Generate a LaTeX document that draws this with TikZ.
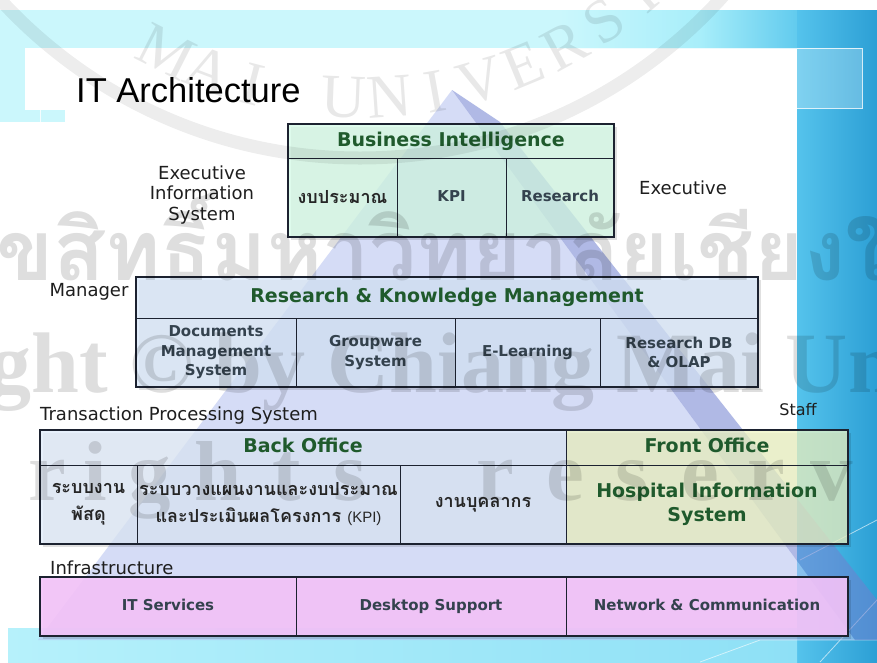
\documentclass[tikz,border=0pt]{standalone}
\usepackage{fontspec}
\setmainfont{DejaVu Sans}
\newfontfamily\titlefont{Liberation Sans}
\newfontfamily\thaifont[Script=Thai]{Loma}
\newfontfamily\wmserif{Liberation Serif}
\definecolor{hdgreen}{HTML}{1F5A2C}
\definecolor{celltxt}{HTML}{34424E}
\definecolor{lbl}{HTML}{1E1E1E}
\definecolor{bannerA}{HTML}{CBF7FC}
\definecolor{bannerB}{HTML}{A8EEFA}
\definecolor{bannerC}{HTML}{62CBEE}
\definecolor{panelA}{HTML}{55C3EC}
\definecolor{panelB}{HTML}{2C9FD5}
\definecolor{bottomA}{HTML}{B6F1FB}
\definecolor{bottomB}{HTML}{8EE0F6}
\definecolor{triface}{RGB}{180,192,240}
\definecolor{triband}{RGB}{112,128,208}
\definecolor{bifill}{RGB}{212,250,230}
\definecolor{rkfill}{RGB}{216,231,250}
\definecolor{bofill}{RGB}{224,235,250}
\definecolor{fofill}{RGB}{238,245,196}
\definecolor{infill}{RGB}{245,196,250}
\definecolor{boxline}{HTML}{1C2230}
\newcommand{\vfix}{\vphantom{Agp}}
\tikzset{
  cellbox/.style={draw=boxline, line width=0.7pt, inner sep=0pt, align=center, fill opacity=0.75, text opacity=1},
  hdtxt/.style={font=\bfseries\fontsize{19}{24}\selectfont, text=hdgreen},
  celltext/.style={font=\bfseries\fontsize{15}{19.5}\selectfont, text=celltxt},
  thaitext/.style={font=\thaifont\bfseries\fontsize{18}{27}\selectfont, text=black!85},
  lbltext/.style={font=\fontsize{18}{20.5}\selectfont, text=lbl, align=center},
  outerbox/.style={draw=boxline, line width=1.8pt},
  shadowbox/.style={fill=black, opacity=0.12},
  wmtext/.style={text=black, opacity=0.13, inner sep=0pt},
}
\begin{document}
\begin{tikzpicture}[x=1pt,y=-1pt]
\useasboundingbox (0,0) rectangle (877,662);
\clip (0,0) rectangle (877,662);
% background
\fill[white] (0,0) rectangle (877,662);
\fill[bannerA] (0,10) rectangle (560,48);
\shade[left color=bannerA, right color=bannerB] (560,10) rectangle (700,48);
\shade[left color=bannerB, right color=bannerC] (700,10) rectangle (797,48);
\fill[bannerA] (0,48) rectangle (25,122);
\fill[bannerA] (25,110) rectangle (65,122);
\shade[left color=panelA, right color=panelB] (797,10) rectangle (877,662);
\fill[white, opacity=0.25] (797,48) rectangle (862,108);
\shade[left color=bottomA, right color=bottomB] (8,628) rectangle (797,662);
\draw[white, line width=1pt, opacity=0.8] (40,130) -- (40,48) -- (862,48) -- (862,108) -- (797,108);
\draw[white, line width=0.8pt, opacity=0.6] (800,560) -- (877,520) (820,662) -- (877,600) (700,662) -- (760,640) -- (877,640);
% pyramid
\fill[triface, opacity=0.55] (452,90) -- (38,640) -- (855,640) -- cycle;
\fill[triband, opacity=0.55] (452,90) -- (500,122) -- (877,600) -- (877,640) -- (855,640) -- cycle;
% title
\node[font=\titlefont\fontsize{34.5}{38}\selectfont, anchor=west, inner sep=0pt] (title) at (76,90) {IT Architecture};
% shadows
\fill[shadowbox] (291,127) rectangle (617,240);
\fill[shadowbox] (139,280) rectangle (761,390);
\fill[shadowbox] (43,433) rectangle (851,547);
\fill[shadowbox] (43,580) rectangle (851,639);
% Business Intelligence
\node[cellbox, hdtxt, fill=bifill, minimum width=326pt, minimum height=34pt] (bih) at (451,141) {\vfix Business Intelligence};
\node[cellbox, thaitext, fill=bifill, minimum width=109pt, minimum height=79pt] (bi1) at (342.5,197.5) {งบประมาณ};
\node[cellbox, celltext, fill=bifill, minimum width=109pt, minimum height=79pt] (bi2) at (451.5,197.5) {\vfix KPI};
\node[cellbox, celltext, fill=bifill, minimum width=108pt, minimum height=79pt] (bi3) at (560,197.5) {\vfix Research};
\draw[outerbox] (288,124) rectangle (614,237);
% Research & Knowledge Management
\node[cellbox, hdtxt, fill=rkfill, minimum width=622pt, minimum height=41pt] (rkh) at (447,297.5) {\vfix Research \& Knowledge Management};
\node[cellbox, celltext, fill=rkfill, minimum width=160pt, minimum height=69pt] (rk1) at (216,352.5) {Documents\\Management\\System};
\node[cellbox, celltext, fill=rkfill, minimum width=159pt, minimum height=69pt] (rk2) at (375.5,352.5) {Groupware\\System};
\node[cellbox, celltext, fill=rkfill, minimum width=145pt, minimum height=69pt] (rk3) at (527.5,352.5) {\vfix E-Learning};
\node[cellbox, celltext, fill=rkfill, minimum width=158pt, minimum height=69pt] (rk4) at (679,352.5) {Research DB\\\& OLAP};
\draw[outerbox] (136,277) rectangle (758,387);
% Transaction processing
\node[cellbox, hdtxt, fill=bofill, minimum width=526pt, minimum height=35pt] (boh) at (303,447.5) {\vfix Back Office};
\node[cellbox, hdtxt, fill=fofill, minimum width=282pt, minimum height=35pt] (foh) at (707,447.5) {\vfix Front Office};
\node[cellbox, thaitext, fill=bofill, minimum width=97pt, minimum height=79pt] (bo1) at (88.5,504.5) {ระบบงาน\\พัสดุ};
\node[cellbox, thaitext, fill=bofill, minimum width=263pt, minimum height=79pt] (bo2) at (268.5,504.5) {ระบบวางแผนงานและงบประมาณ\\และประเมินผลโครงการ {\titlefont\mdseries\fontsize{15}{27}\selectfont (KPI)}};
\node[cellbox, thaitext, fill=bofill, minimum width=166pt, minimum height=79pt] (bo3) at (483,504.5) {งานบุคลากร};
\node[cellbox, hdtxt, fill=fofill, minimum width=282pt, minimum height=79pt] (fo1) at (707,504.5) {Hospital Information\\System};
\draw[outerbox] (40,430) rectangle (848,544);
% Infrastructure
\node[cellbox, celltext, fill=infill, fill opacity=0.9, minimum width=256pt, minimum height=59pt] (in1) at (168,606.5) {\vfix IT Services};
\node[cellbox, celltext, fill=infill, fill opacity=0.9, minimum width=270pt, minimum height=59pt] (in2) at (431,606.5) {\vfix Desktop Support};
\node[cellbox, celltext, fill=infill, fill opacity=0.9, minimum width=282pt, minimum height=59pt] (in3) at (707,606.5) {\vfix Network \& Communication};
\draw[outerbox] (40,577) rectangle (848,636);
% labels
\node[lbltext] (eis) at (202,195) {Executive\\Information\\System};
\node[lbltext] (exe) at (683,188) {Executive};
\node[lbltext] (mgr) at (89,292) {Manager};
\node[lbltext, anchor=west, inner sep=0pt] (tps) at (40,416) {Transaction Processing System};
\node[lbltext, font=\fontsize{16}{18}\selectfont] (stf) at (798,410) {Staff};
\node[lbltext, anchor=west, inner sep=0pt] (inf) at (50,568) {Infrastructure};
% watermark
\draw[black, opacity=0.07, line width=13pt] (360,-330) circle[radius=488];
\foreach \ch/\k in {M/0,A/1,I/2,U/4,N/5,I/6,V/7,E/8,R/9,S/10,I/11,T/12,Y/13}{
  \pgfmathsetmacro{\ang}{116.9-6.17*\k}
  \node[wmtext, opacity=0.09, font=\wmserif\fontsize{62}{62}\selectfont, rotate={90-\ang}] (wma\k) at ({360+428*cos(\ang)},{-330+428*sin(\ang)}) {\ch};
}
\node[wmtext, font=\thaifont\bfseries\fontsize{84}{84}\selectfont, anchor=base west] (wmth) at (-55,280) {ลิขสิทธิ์มหาวิทยาลัยเชียงใหม่};
\node[wmtext, font=\wmserif\bfseries\fontsize{86}{86}\selectfont, anchor=base west] (wmcp) at (-270,392) {Copyright © by Chiang Mai University};
\foreach \ch/\x [count=\i] in {A/-190,l/-130,l/-100,r/47,i/95,g/150,h/218,t/287,s/350,r/495,e/565,s/632,e/700,r/766,v/832,e/900,d/965}{
  \node[wmtext, font=\wmserif\bfseries\fontsize{85}{85}\selectfont, anchor=base] (wmr\i) at (\x,500) {\ch};
}
\end{tikzpicture}
\end{document}
